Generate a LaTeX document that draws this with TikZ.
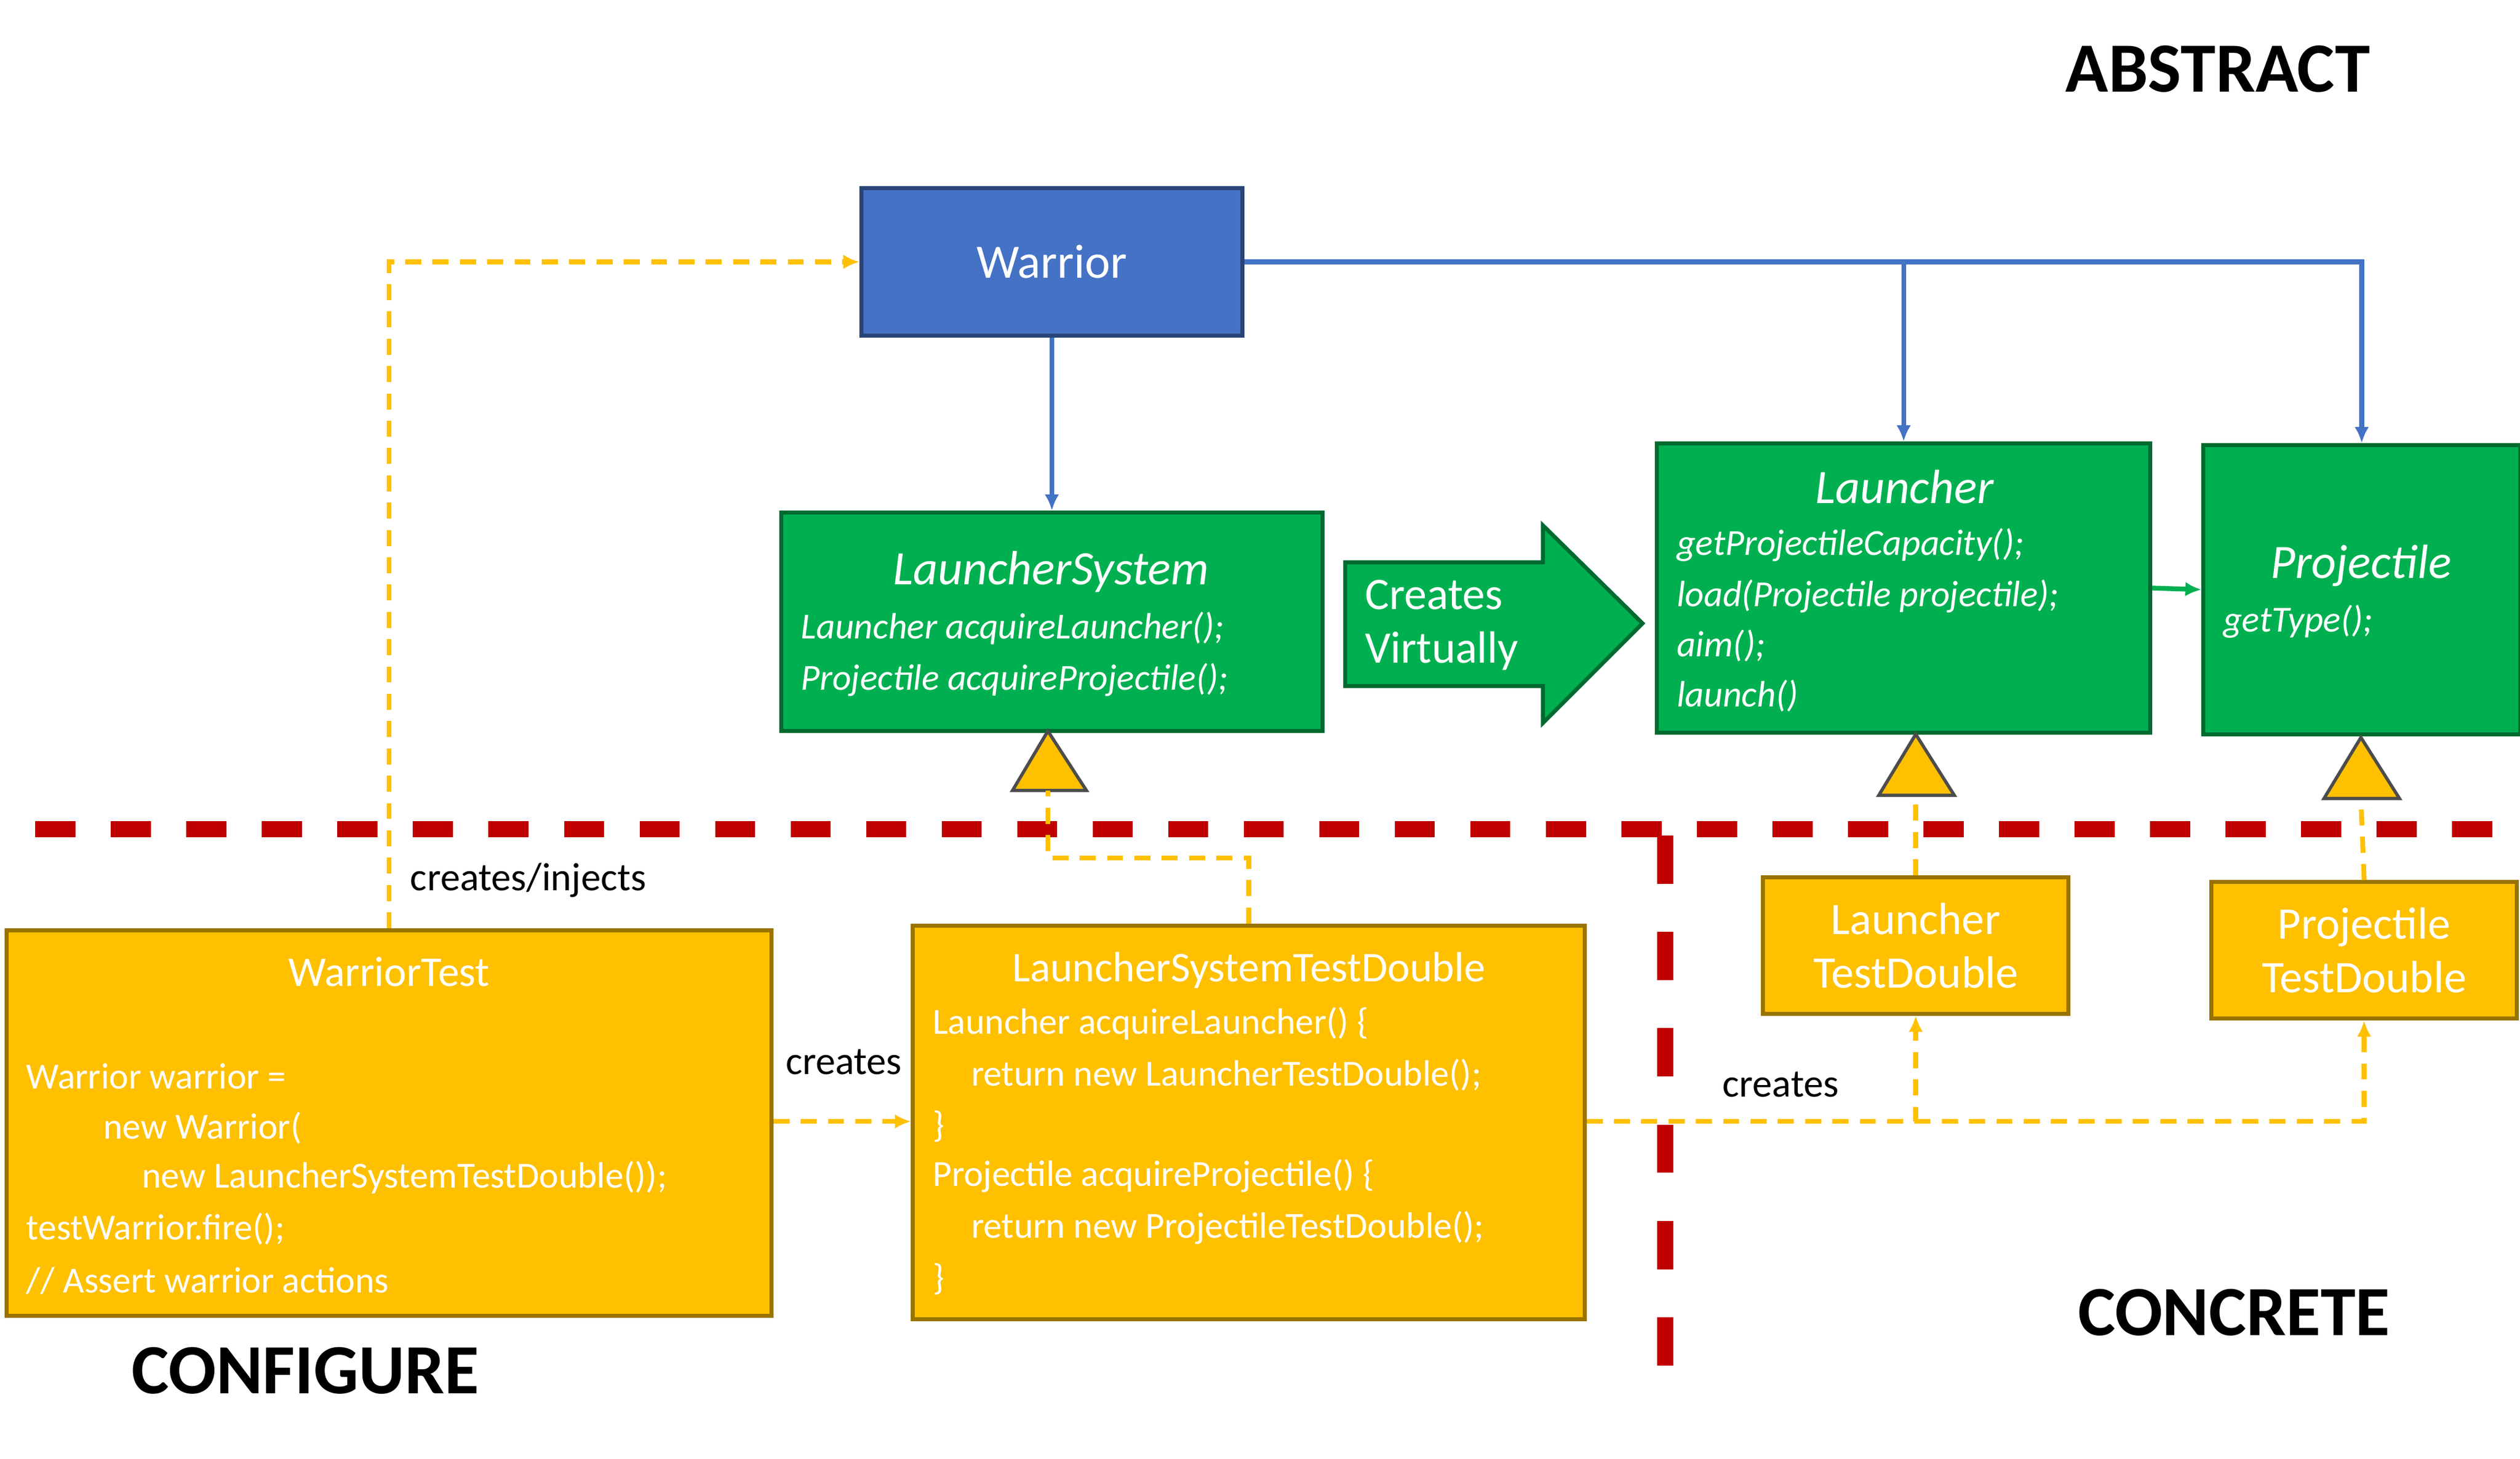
\documentclass[tikz,border=0pt]{standalone}
\usepackage{fontspec}
\setmainfont{Carlito}
\usetikzlibrary{arrows.meta}
\definecolor{wblue}{HTML}{4472C4}
\definecolor{wgreen}{HTML}{00B050}
\definecolor{wyellow}{HTML}{FFC000}
\definecolor{wred}{HTML}{C00000}
\tikzset{
  box/.style={draw=#1!60!black, fill=#1, line width=0.5mm, inner sep=0pt},
  code/.style={anchor=west, inner sep=0pt, text=white, font=\fontsize{13}{15}\selectfont},
  title/.style={inner sep=0pt, text=white, font=\fontsize{17}{20}\selectfont},
  blueline/.style={wblue, line width=0.6mm, -{Latex[length=2mm,width=1.8mm]}},
  yline/.style={wyellow, line width=0.6mm, dash pattern=on 2mm off 1.4mm, -{Latex[length=2mm,width=1.8mm]}},
  tri/.style={fill=wyellow, draw=black!70, line width=0.4mm},
  big/.style={font=\bfseries\fontsize{25}{28}\selectfont}
}
\begin{document}
\begin{tikzpicture}[x=0.02cm,y=-0.02cm]
\useasboundingbox (0,0) rectangle (1568,908);

\node[box=wblue, minimum width=47.4mm, minimum height=18.4mm] (warrior) at (654.5,163) {};
\node[title] at (654.5,163) {Warrior};

\node[box=wgreen, minimum width=67.4mm, minimum height=27.2mm] (ls) at (654.5,387) {};
\node[title,font=\itshape\fontsize{17}{20}\selectfont] at (654,356) {LauncherSystem};
\node[code,font=\itshape\fontsize{13}{15}\selectfont] at (498,391) {Launcher acquireLauncher();};
\node[code,font=\itshape\fontsize{13}{15}\selectfont] at (498,423) {Projectile acquireProjectile();};

\node[box=wgreen, minimum width=61.4mm, minimum height=36mm] (launcher) at (1184.5,366) {};
\node[title,font=\itshape\fontsize{17}{20}\selectfont] at (1185,303) {Launcher};
\node[code,font=\itshape\fontsize{13}{15}\selectfont] at (1043,339) {getProjectileCapacity();};
\node[code,font=\itshape\fontsize{13}{15}\selectfont] at (1043,371) {load(Projectile projectile);};
\node[code,font=\itshape\fontsize{13}{15}\selectfont] at (1043,402) {aim();};
\node[code,font=\itshape\fontsize{13}{15}\selectfont] at (1043,433) {launch()};

\node[box=wgreen, minimum width=39.4mm, minimum height=36mm] (projectile) at (1469.5,367) {};
\node[title,font=\itshape\fontsize{17}{20}\selectfont] at (1469,352) {Projectile};
\node[code,font=\itshape\fontsize{13}{15}\selectfont] at (1383,387) {getType();};

% creates virtually
\filldraw[fill=wgreen, draw=wgreen!60!black, line width=0.5mm]
  (837,350) -- (960,350) -- (960,327) -- (1022,388) -- (960,450) -- (960,427) -- (837,427) -- cycle;
\node[code,align=left,font=\fontsize{16}{19}\selectfont] (virt) at (849,389) {Creates\\Virtually};

\draw[blueline] (warrior.south) -- (ls.north);
\draw[blueline] (warrior.east) -| (projectile.north);
\draw[blueline] (warrior.east) -| (launcher.north);
\draw[wgreen, line width=0.6mm, -{Latex[length=2mm,width=1.8mm]}] (launcher.east |- 0,366) -- (projectile.west |- 0,367);

% boundary
\draw[wred, line width=2mm, dash pattern=on 5mm off 4.4mm] (22,516) -- (1555,516);
\draw[wred, line width=2mm, dash pattern=on 6mm off 6mm] (1036,520) -- (1036,858);

\filldraw[tri] (630,492) -- (652,455) -- (676,492) -- cycle;
\filldraw[tri] (1169,495) -- (1192,457) -- (1216,495) -- cycle;
\filldraw[tri] (1446,497) -- (1469,459) -- (1493,497) -- cycle;
\coordinate (tls) at (652,492);
\coordinate (tl) at (1192,495);
\coordinate (tp) at (1469,497);

\node[box=wyellow, minimum width=95.2mm, minimum height=48mm] (wtest) at (242,699) {};
\node[title,font=\fontsize{15}{18}\selectfont] at (242,605) {WarriorTest};
\node[code] at (16,670) {Warrior warrior =};
\node[code] at (64,702) {new Warrior(};
\node[code] at (88,733) {new LauncherSystemTestDouble());};
\node[code] at (16,765) {testWarrior.fire();};
\node[code] at (16,797) {// Assert warrior actions};

\node[box=wyellow, minimum width=83.6mm, minimum height=49mm] (lstd) at (777,698.5) {};
\node[title,font=\fontsize{15}{18}\selectfont] at (777,604) {LauncherSystemTestDouble};
\node[code] at (580,637) {Launcher acquireLauncher() \{};
\node[code] at (604,669) {return new LauncherTestDouble();};
\node[code] at (580,701) {\}};
\node[code] at (580,732) {Projectile acquireProjectile() \{};
\node[code] at (604,764) {return new ProjectileTestDouble();};
\node[code] at (580,796) {\}};

\node[box=wyellow, minimum width=38mm, minimum height=17mm, text=white, align=center,
  font=\fontsize{16}{19}\selectfont] (ltd) at (1192,588.5) {Launcher\\TestDouble};
\node[box=wyellow, minimum width=38mm, minimum height=17mm, text=white, align=center,
  font=\fontsize{16}{19}\selectfont] (ptd) at (1471,591.5) {Projectile\\TestDouble};

\draw[yline] (wtest.north) |- (warrior.west);
\draw[yline] (wtest.east |- 0,698) -- (lstd.west |- 0,698);
\draw[yline,-] (lstd.north) |- (652,534) -- (tls);
\draw[yline] (lstd.east |- 0,698) -| (ptd.south);
\draw[yline] (lstd.east |- 0,698) -| (ltd.south);
\draw[yline,-] (ltd.north) -- (tl);
\draw[yline,-] (ptd.north) -- (tp);

\node[anchor=west, inner sep=0pt, font=\fontsize{14}{17}\selectfont] (lci) at (255,548) {creates/injects};
\node[inner sep=0pt, font=\fontsize{14}{17}\selectfont] (lc1) at (525,661) {creates};
\node[inner sep=0pt, font=\fontsize{14}{17}\selectfont] (lc2) at (1108,675) {creates};

\node[big] (abs) at (1380,43) {ABSTRACT};
\node[big] (con) at (1390,817) {CONCRETE};
\node[big] (cfg) at (190,853) {CONFIGURE};
\end{tikzpicture}
\end{document}
